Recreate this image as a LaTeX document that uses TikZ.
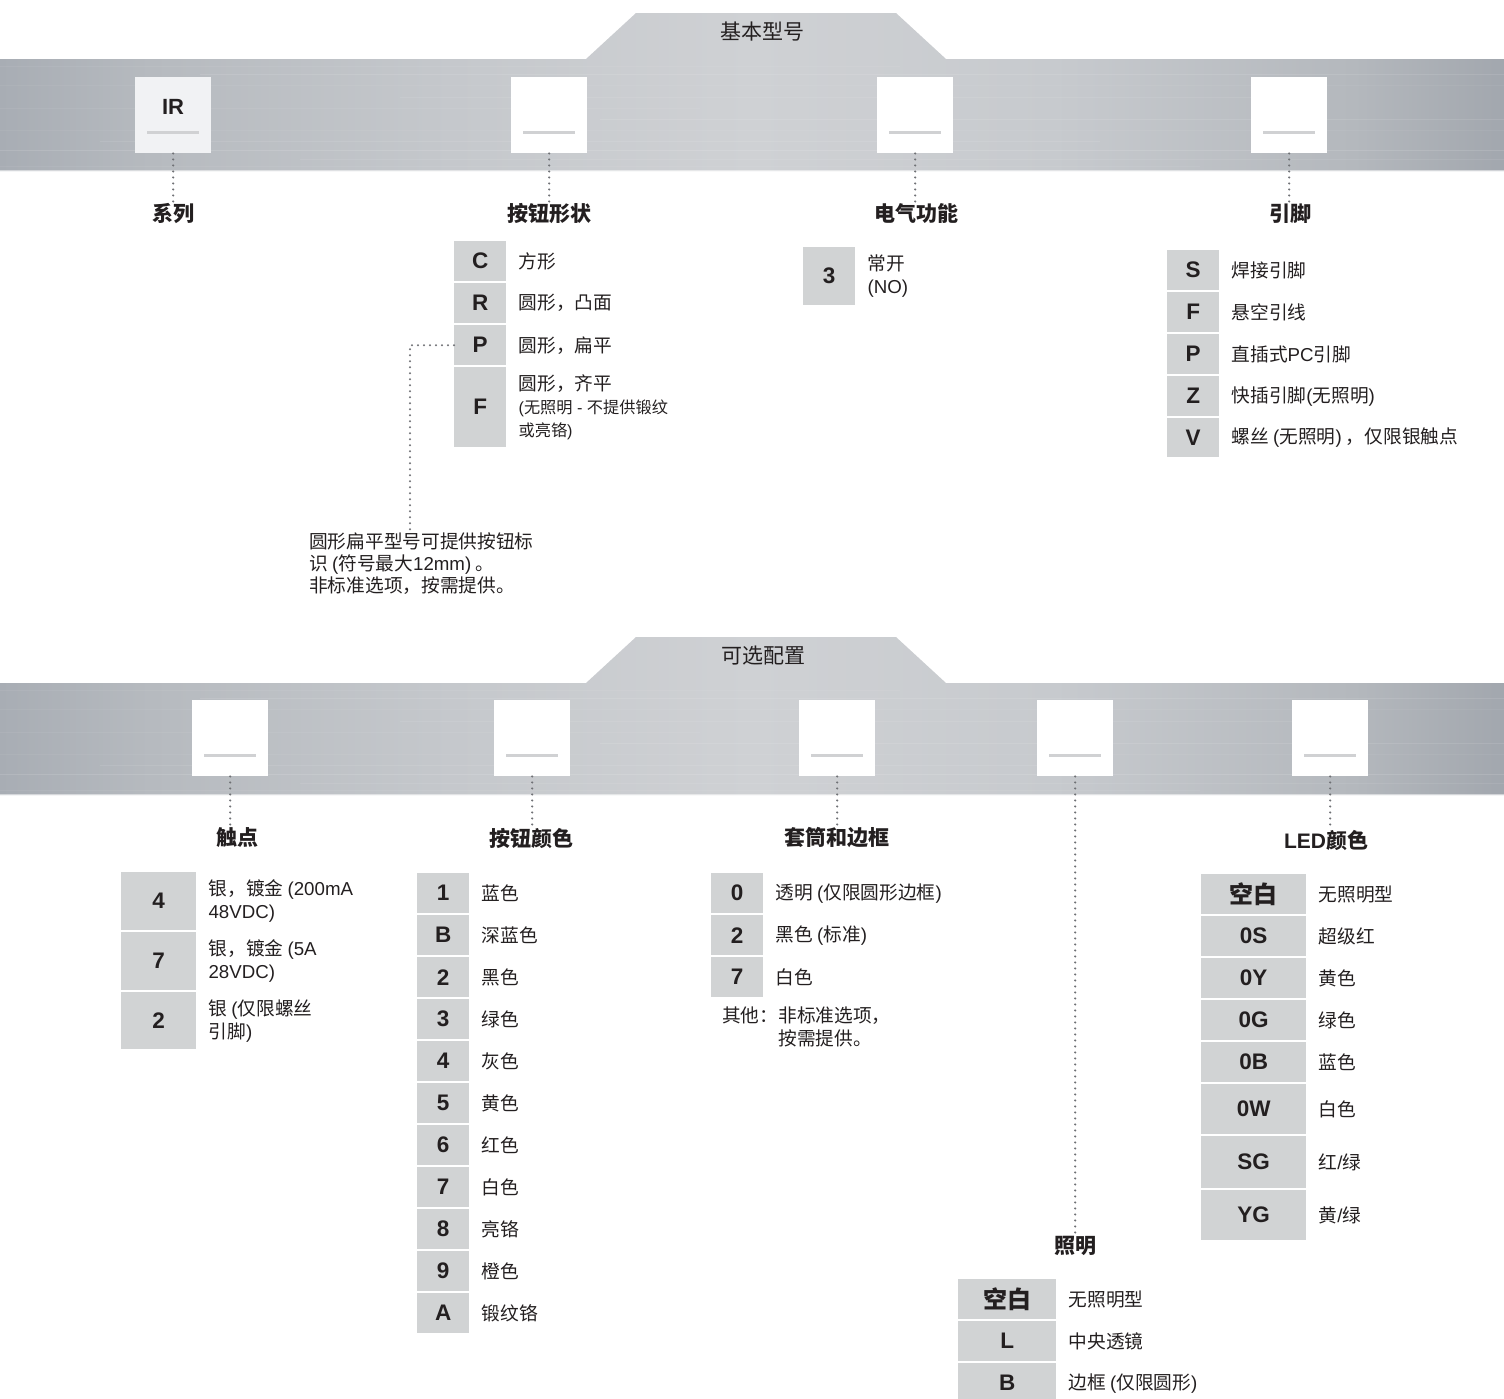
\documentclass[tikz,border=0pt]{standalone}
\usepackage{fontspec}
\setmainfont{Noto Sans CJK SC}
\newfontfamily\latn{Liberation Sans}
\newfontfamily\cjk{Noto Sans CJK SC}
\newcommand\lsans[1]{{\latn #1}}
\definecolor{txt}{HTML}{231F20}
\definecolor{codegray}{HTML}{D1D3D4}
\definecolor{dotc}{HTML}{6F7175}
\definecolor{ulc}{HTML}{D0D1D3}
\definecolor{irfill}{HTML}{F1F2F4}
\definecolor{mA}{HTML}{A8ADB4}
\definecolor{mB}{HTML}{B6BABF}
\definecolor{mC}{HTML}{C5C8CC}
\definecolor{mD}{HTML}{CFD1D4}
\definecolor{mE}{HTML}{C7CACE}
\definecolor{mF}{HTML}{B4B8BD}
\definecolor{mG}{HTML}{A2A7AE}
\pgfdeclarehorizontalshading{metal}{100bp}{color(0bp)=(mA); color(25bp)=(mA); color(30bp)=(mB); color(40bp)=(mC); color(50bp)=(mD); color(60bp)=(mE); color(70bp)=(mF); color(75bp)=(mG); color(100bp)=(mG)}
% name, x, top, width, height, code, description
\newcommand\crow[7]{%
  \node[cbox, minimum width=#4, minimum height=#5, anchor=north west] (#1) at (#2,#3) {#6};
  \node[desc, anchor=west] (#1-t) at ([xshift=12pt]#1.east) {#7};
}
% [fill], name, x, top
\newcommand\slot[4][white]{%
  \node[slotbox, fill=#1] (#2) at (#3,#4) {};
  \draw[uline] ([shift={(12pt,21pt)}]#2.south west) -- ([shift={(-12pt,21pt)}]#2.south east);
}
\begin{document}
\begin{tikzpicture}[x=1pt,y=-1pt,
  cbox/.style={fill=codegray, inner sep=0pt, text=txt, font=\fontsize{22.5}{24}\selectfont\bfseries\latn},
  desc/.style={inner sep=0pt, align=left, text=txt, font=\fontsize{18.7}{23}\selectfont},
  head/.style={inner sep=1pt, text=txt, font=\fontsize{21}{24}\selectfont\bfseries},
  ttl/.style={inner sep=0pt, text=txt, font=\fontsize{21}{24}\selectfont},
  slotbox/.style={minimum width=76, minimum height=76, inner sep=0pt, anchor=north west},
  uline/.style={draw=ulc, line width=2.5pt},
  dots/.style={draw=dotc, line width=2.3pt, dash pattern=on 0pt off 6pt, line cap=round},
  streak/.style={draw=white, line width=0.7pt}
]
\useasboundingbox (0,0) rectangle (1504,1398);

% ---------- metal bands ----------
\shade[shading=metal] (0,59) -- (586,59) -- (636,13) -- (896,13) -- (946,59) -- (1504,59) -- (1504,171) -- (0,171) -- cycle;
\shade[shading=metal] (0,683) -- (586,683) -- (636,637) -- (896,637) -- (946,683) -- (1504,683) -- (1504,795) -- (0,795) -- cycle;
\foreach \yy/\op/\xa/\xb in {66/0.06/0/900,74/0.10/200/1504,85/0.05/0/1504,97/0.08/400/1300,108/0.06/0/700,119/0.10/600/1504,130/0.05/0/1504,141/0.09/100/1100,150/0.12/0/1504,159/0.08/300/1504,166/0.06/0/1200}{
  \draw[streak, opacity=\op] (\xa,\yy) -- (\xb,\yy);
  \draw[streak, opacity=\op] (\xa,\yy+624) -- (\xb,\yy+624);
}
\draw[draw=white, opacity=0.5, line width=1pt] (0,170.5) -- (1504,170.5);
\draw[draw=white, opacity=0.5, line width=1pt] (0,794.5) -- (1504,794.5);

\node[ttl] (title1) at (762,32) {基本型号};
\node[ttl] (title2) at (763,656) {可选配置};

% ---------- top slots ----------
\slot[irfill]{t1}{135}{77}
\node[inner sep=0pt, text=txt, font=\fontsize{22}{24}\selectfont\bfseries\latn] (irtxt) at (173,107) {IR};
\slot{t2}{511}{77}
\slot{t3}{877}{77}
\slot{t4}{1251}{77}

\node[head] (h1) at (173,214) {系列};
\node[head] (h2) at (549,214) {按钮形状};
\node[head] (h3) at (916,214) {电气功能};
\node[head] (h4) at (1290,214) {引脚};

\draw[dots] (t1.south) -- (t1.south |- h1.north);
\draw[dots] (t2.south) -- (t2.south |- h2.north);
\draw[dots] (t3.south) -- (t3.south |- h3.north);
\draw[dots] (t4.south) -- (t4.south |- h4.north);

% 按钮形状
\crow{sC}{454}{241}{52}{40}{C}{方形}
\crow{sR}{454}{283}{52}{40}{R}{圆形，凸面}
\crow{sP}{454}{325}{52}{40}{P}{圆形，扁平}
\crow{sF}{454}{367}{52}{80}{F}{圆形，齐平\\{\fontsize{16.2}{22}\selectfont\lsans{(}无照明\lsans{ - }不提供锻纹}\\{\fontsize{16.2}{22}\selectfont 或亮铬\lsans{)}}}

\node[desc, anchor=north west, font=\fontsize{18.7}{22}\selectfont] (note) at (309,532) {圆形扁平型号可提供按钮标\\识 \lsans{(}符号最大\lsans{12mm)} 。\\非标准选项，按需提供。};
\coordinate (nk) at (410,0);
\draw[dots] (sP.west) -| (nk |- note.north);

% 电气功能
\crow{e3}{803}{247}{52}{58}{3}{常开\\\lsans{(NO)}}

% 引脚
\crow{pS}{1167}{250}{52}{40}{S}{焊接引脚}
\crow{pF}{1167}{292}{52}{40}{F}{悬空引线}
\crow{pP}{1167}{334}{52}{40}{P}{直插式\lsans{PC}引脚}
\crow{pZ}{1167}{376}{52}{40}{Z}{快插引脚\lsans{(}无照明\lsans{)}}
\crow{pV}{1167}{418}{52}{39}{V}{螺丝 \lsans{(}无照明\lsans{)} ，仅限银触点}

% ---------- bottom slots ----------
\slot{b1}{192}{700}
\slot{b2}{494}{700}
\slot{b3}{799}{700}
\slot{b4}{1037}{700}
\slot{b5}{1292}{700}

\node[head] (g1) at (237,838) {触点};
\node[head] (g2) at (531,838) {按钮颜色};
\node[head] (g3) at (837,838) {套筒和边框};
\node[head] (g4) at (1075,1246) {照明};
\node[head] (g5) at (1326,840) {\lsans{LED}颜色};

\draw[dots] (b1.south) -- (b1.south |- g1.north);
\draw[dots] (b2.south) -- (b2.south |- g2.north);
\draw[dots] (b3.south) -- (b3.south |- g3.north);
\draw[dots] (b4.south) -- (b4.south |- g4.north);
\draw[dots] (b5.south) -- (b5.south |- g5.north);

% 触点
\crow{k4}{121}{872}{75}{58}{4}{银，镀金 \lsans{(200mA}\\\lsans{48VDC)}}
\crow{k7}{121}{932}{75}{58}{7}{银，镀金 \lsans{(5A}\\\lsans{28VDC)}}
\crow{k2}{121}{992}{75}{57}{2}{银 \lsans{(}仅限螺丝\\引脚\lsans{)}}

% 按钮颜色
\crow{c1}{417}{873}{52}{40}{1}{蓝色}
\crow{cB}{417}{915}{52}{40}{B}{深蓝色}
\crow{c2}{417}{957}{52}{40}{2}{黑色}
\crow{c3}{417}{999}{52}{40}{3}{绿色}
\crow{c4}{417}{1041}{52}{40}{4}{灰色}
\crow{c5}{417}{1083}{52}{40}{5}{黄色}
\crow{c6}{417}{1125}{52}{40}{6}{红色}
\crow{c7}{417}{1167}{52}{40}{7}{白色}
\crow{c8}{417}{1209}{52}{40}{8}{亮铬}
\crow{c9}{417}{1251}{52}{40}{9}{橙色}
\crow{cA}{417}{1293}{52}{40}{A}{锻纹铬}

% 套筒和边框
\crow{r0}{711}{873}{52}{40}{0}{透明 \lsans{(}仅限圆形边框\lsans{)}}
\crow{r2}{711}{915}{52}{40}{2}{黑色 \lsans{(}标准\lsans{)}}
\crow{r7}{711}{957}{52}{40}{7}{白色}
\node[desc, anchor=north west] (other) at (722,1007) {其他：非标准选项，\\\phantom{其他：}按需提供。};

% LED颜色
\crow{l0}{1201}{874}{105}{40}{{\cjk\fontsize{24}{26}\selectfont 空白}}{无照明型}
\crow{lS}{1201}{916}{105}{40}{0S}{超级红}
\crow{lY}{1201}{958}{105}{40}{0Y}{黄色}
\crow{lG}{1201}{1000}{105}{40}{0G}{绿色}
\crow{lB}{1201}{1042}{105}{40}{0B}{蓝色}
\crow{lW}{1201}{1084}{105}{50}{0W}{白色}
\crow{lSG}{1201}{1136}{105}{52}{SG}{红\lsans{/}绿}
\crow{lYG}{1201}{1190}{105}{50}{YG}{黄\lsans{/}绿}

% 照明
\crow{i0}{958}{1279}{98}{40}{{\cjk\fontsize{24}{26}\selectfont 空白}}{无照明型}
\crow{iL}{958}{1321}{98}{40}{L}{中央透镜}
\crow{iB}{958}{1363}{98}{40}{B}{边框 \lsans{(}仅限圆形\lsans{)}}
\end{tikzpicture}
\end{document}
